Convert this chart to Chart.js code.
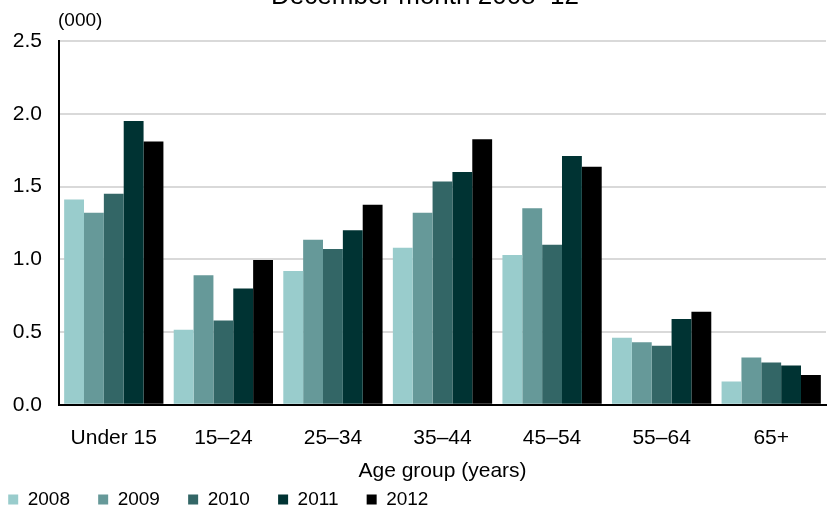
<!DOCTYPE html>
<html lang="en">
<head>
  <meta charset="UTF-8">
  <title>December month 2008–12</title>
  <script src="https://cdn.jsdelivr.net/npm/chart.js"></script>
  <style>
    html, body { margin: 0; padding: 0; background: #fff; }
    #wrap { width: 838px; height: 511px; position: relative; }
  </style>
</head>
<body>
  <div id="wrap"><canvas id="chart"></canvas></div>

  <script>
    // data (thousands)
    const categories = ['Under 15', '15–24', '25–34', '35–44', '45–54', '55–64', '65+'];
    const years = ['2008', '2009', '2010', '2011', '2012'];
    const v2008 = [1.41, 0.515, 0.92, 1.08, 1.03, 0.46, 0.16];
    const v2009 = [1.32, 0.89, 1.135, 1.32, 1.35, 0.43, 0.325];
    const v2010 = [1.45, 0.58, 1.07, 1.535, 1.10, 0.405, 0.29];
    const v2011 = [1.95, 0.80, 1.20, 1.60, 1.71, 0.59, 0.27];
    const v2012 = [1.81, 0.995, 1.375, 1.825, 1.635, 0.64, 0.205];
    const yTicks = [0, 0.5, 1.0, 1.5, 2.0, 2.5];
    const colors = ['#99cccc', '#669999', '#336666', '#003333', '#000000'];

    const FONT = '"Liberation Sans", Arial, sans-serif';
    const series = [v2008, v2009, v2010, v2011, v2012];

    // title (cut off at top) and the (000) unit label
    const extraText = {
      id: 'extraText',
      afterDraw(chart) {
        const c = chart.ctx;
        c.save();
        c.fillStyle = '#000';
        c.textBaseline = 'alphabetic';
        c.font = '26px ' + FONT;
        c.textAlign = 'center';
        c.fillText('December month 2008–12', 425, 4);
        c.font = '19px ' + FONT;
        c.textAlign = 'left';
        c.fillText('(000)', 58, 26);
        c.restore();
      }
    };

    new Chart(document.getElementById('chart'), {
      type: 'bar',
      data: {
        labels: categories,
        datasets: years.map((y, i) => ({
          label: y,
          data: series[i],
          backgroundColor: colors[i],
          borderWidth: 0,
          categoryPercentage: 0.906,
          barPercentage: 1.0
        }))
      },
      options: {
        responsive: true,
        maintainAspectRatio: false,
        animation: false,
        layout: { padding: { top: 41, left: -20, right: 12, bottom: -8 } },
        plugins: {
          title: { display: false },
          tooltip: { enabled: false },
          legend: {
            position: 'bottom',
            align: 'start',
            labels: {
              boxWidth: 10,
              boxHeight: 10,
              padding: 28.2,
              color: '#000',
              font: { family: FONT, size: 19 }
            }
          }
        },
        scales: {
          x: {
            grid: { display: false },
            border: { display: true, color: '#000', width: 2 },
            ticks: { color: '#000', padding: 13, font: { family: FONT, size: 21 }, maxRotation: 0 },
            title: {
              display: true,
              text: 'Age group (years)',
              color: '#000',
              font: { family: FONT, size: 21 },
              padding: { top: 0, bottom: -21.6 }
            },
            afterFit(scale) { scale.height = 57; }
          },
          y: {
            min: 0,
            max: 2.5,
            grid: { color: '#d9d9d9', lineWidth: 2, drawTicks: false },
            border: { display: true, color: '#000', width: 2 },
            afterBuildTicks(scale) { scale.ticks = yTicks.map(v => ({ value: v })); },
            ticks: {
              color: '#000',
              padding: 17,
              font: { family: FONT, size: 21 },
              callback: v => v.toFixed(1)
            },
            afterFit(scale) { scale.width = 79; }
          }
        }
      },
      plugins: [extraText]
    });
  </script>
</body>
</html>
